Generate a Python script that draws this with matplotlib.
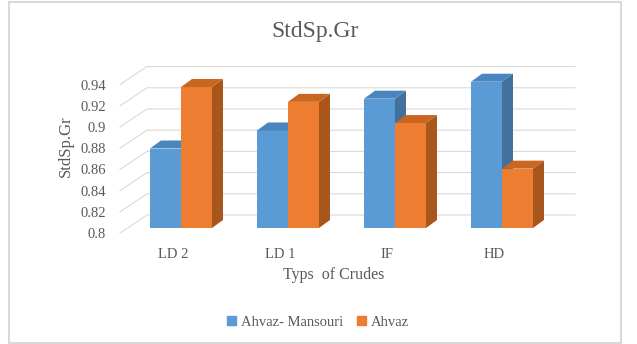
import numpy as np
import matplotlib
matplotlib.use("Agg")
import matplotlib.pyplot as plt
from matplotlib.patches import Polygon, Rectangle

plt.rcParams['font.family'] = ['Liberation Serif', 'DejaVu Serif']

# data
crudes = ["LD 2", "LD 1", "IF", "HD"]
series_names = ["Ahvaz- Mansouri", "Ahvaz"]
mansouri = [0.875, 0.892, 0.922, 0.938]
ahvaz = [0.933, 0.919, 0.899, 0.856]
yticks = [0.8, 0.82, 0.84, 0.86, 0.88, 0.9, 0.92, 0.94]

front_cols = ["#5B9BD5", "#ED7D31"]
top_cols = ["#4A85BD", "#C9661F"]
side_cols = ["#41719C", "#A9561C"]
grid_col = "#D9D9D9"
txt_col = "#595959"

W, H = 637, 344
fig = plt.figure(figsize=(W / 100, H / 100), dpi=100)

# axes box in pixels (front wall left edge -> back wall right edge)
px_left, px_right, px_bot, px_top = 120, 575, 233, 60
ax = fig.add_axes([px_left / W, 1 - px_bot / H, (px_right - px_left) / W, (px_bot - px_top) / H])

xpx = 107.0     # pixels per category
ypx = 1060.0    # pixels per value unit
x0 = -(181 - px_left) / xpx
ax.set_xlim(x0, x0 + (px_right - px_left) / xpx)
ax.set_ylim(0.8, 0.8 + (px_bot - px_top) / ypx)

# wall depth and bar depth (in data units)
DXW, DYW = 27 / xpx, 18 / ypx
BX, BY = 11 / xpx, 8 / ypx
base = 0.8 + 5 / ypx
w = 31 / xpx

# back wall gridlines + side wall lines
xl, xr = ax.get_xlim()
for v in yticks:
    ax.plot([xl, xl + DXW, xr], [v, v + DYW, v + DYW], color=grid_col, lw=0.8,
            clip_on=False, zorder=1)

x = np.arange(len(crudes))
for k, vals in enumerate([mansouri, ahvaz]):
    lefts = x - w + k * w
    heights = np.array(vals) - 0.8
    ax.bar(lefts, heights, width=w, bottom=base, align='edge', color=front_cols[k],
           zorder=2 + k, clip_on=False, label=series_names[k])
    for l, h in zip(lefts, heights):
        top = base + h
        r = l + w
        ax.add_patch(Polygon([(r, base), (r + BX, base + BY), (r + BX, top + BY), (r, top)],
                             closed=True, facecolor=side_cols[k], edgecolor='none',
                             zorder=2 + k, clip_on=False))
        ax.add_patch(Polygon([(l, top), (l + BX, top + BY), (r + BX, top + BY), (r, top)],
                             closed=True, facecolor=top_cols[k], edgecolor='none',
                             zorder=2 + k, clip_on=False))

for s in ax.spines.values():
    s.set_visible(False)
ax.set_yticks(yticks)
ax.set_yticklabels([f"{v:g}" for v in yticks])
ax.set_xticks(x - 8 / xpx)
ax.set_xticklabels(crudes)
ax.tick_params(axis='y', length=0, pad=10, labelsize=10.5, labelcolor=txt_col)
ax.tick_params(axis='x', length=0, pad=11, labelsize=10.5, labelcolor=txt_col)
ax.set_ylabel("StdSp.Gr", fontsize=12, color=txt_col, labelpad=5)

fig.text(334 / W, 1 - 275 / H, "Typs  of Crudes", ha='center', va='center',
         fontsize=11.5, color=txt_col)
fig.text(315 / W, 1 - 31 / H, "StdSp.Gr", ha='center', va='center',
         fontsize=17, color=txt_col)

handles = [Rectangle((0, 0), 1, 1, color=c) for c in front_cols]
fig.legend(handles, series_names, loc='center', bbox_to_anchor=(318 / W, 1 - 322 / H),
           ncol=2, frameon=False, fontsize=10.5, handlelength=0.6, handleheight=0.6,
           handletextpad=0.3, columnspacing=1.0, labelcolor=txt_col)

# chart area border
fig.patches.append(Rectangle((9 / W, 1 / H), 612 / W, 341 / H, transform=fig.transFigure,
                             fill=False, edgecolor=grid_col, lw=1.5))

fig.savefig("out.png", dpi=100)
